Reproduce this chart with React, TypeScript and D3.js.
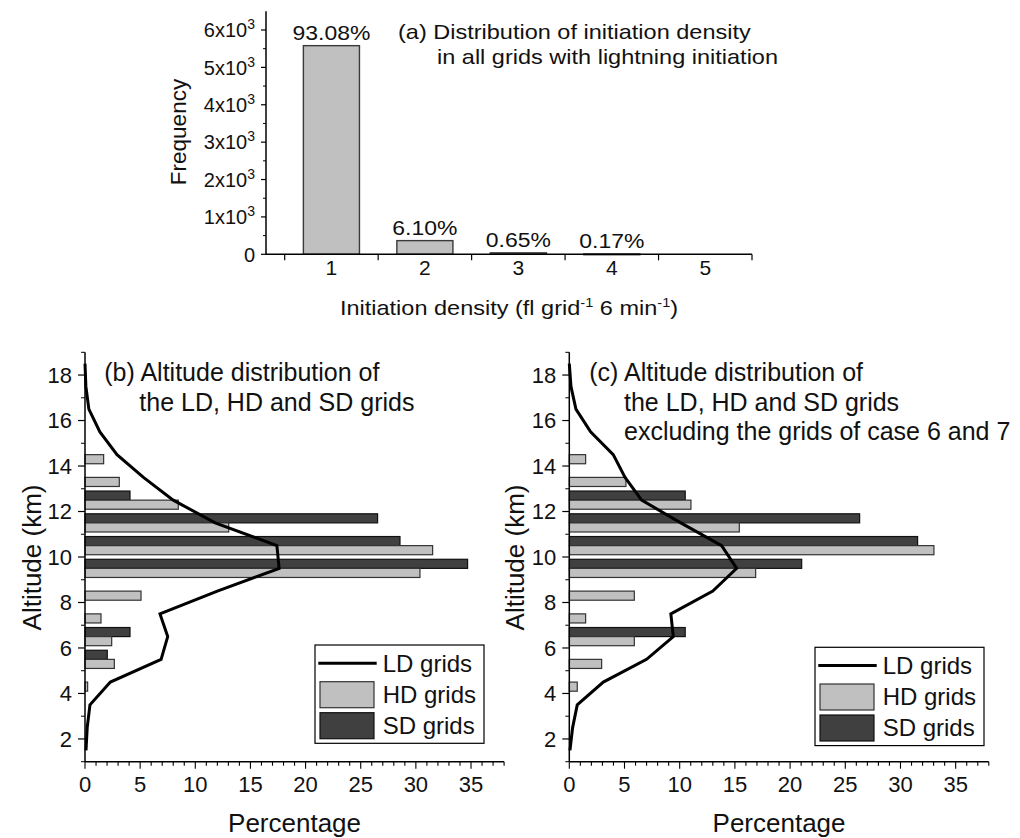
import React from "react";
import * as d3 from "d3";

const FONT = "'Liberation Sans', Arial, Helvetica, sans-serif";

// ---------- Panel (a) data ----------
const densityCategories = [1, 2, 3, 4, 5];
const densityFrequency = [5581, 366, 39, 10, 0];
const densityPercentLabels = ["93.08%", "6.10%", "0.65%", "0.17%", ""];
const freqTicks = [0, 1000, 2000, 3000, 4000, 5000, 6000];
const freqMinorTicks = [500, 1500, 2500, 3500, 4500, 5500];
const densityEdgeTicks = [0.5, 1.5, 2.5, 3.5, 4.5, 5.5];

// ---------- Panels (b),(c) data ----------
const altitudeBins = [1.5, 2.5, 3.5, 4.5, 5.5, 6.5, 7.5, 8.5, 9.5, 10.5, 11.5, 12.5, 13.5, 14.5, 15.5, 16.5, 17.5, 18.5];
const ldB = [0.09, 0.2, 0.45, 2.3, 6.9, 7.5, 6.8, 12.0, 17.6, 17.4, 11.8, 8.0, 5.3, 2.9, 1.35, 0.35, 0.08, 0];
const hdB = [0, 0, 0, 0.24, 2.66, 2.42, 1.45, 5.08, 30.37, 31.52, 13.03, 8.46, 3.11, 1.69, 0, 0, 0, 0];
const sdB = [0, 0, 0, 0, 2.02, 4.08, 0, 0, 34.69, 28.56, 26.53, 4.08, 0, 0, 0, 0, 0, 0];
const ldC = [0.06, 0.3, 0.72, 3.08, 7.0, 9.42, 9.2, 13.0, 15.16, 13.8, 10.1, 6.55, 5.05, 3.98, 1.93, 0.6, 0.15, 0];
const hdC = [0, 0, 0, 0.72, 2.93, 5.89, 1.48, 5.89, 16.88, 33.03, 15.4, 11.02, 5.13, 1.48, 0, 0, 0, 0];
const sdC = [0, 0, 0, 0, 0, 10.5, 0, 0, 21.05, 31.55, 26.3, 10.5, 0, 0, 0, 0, 0, 0];
const pctTicks = [0, 5, 10, 15, 20, 25, 30, 35];
const pctMinorTicks = d3.range(0, 39, 1);
const altTicks = [2, 4, 6, 8, 10, 12, 14, 16, 18];
const altMinorTicks = [1, 3, 5, 7, 9, 11, 13, 15, 17, 19];
const legendLabels = ["LD grids", "HD grids", "SD grids"];

const LIGHT = "#c0c0c0";
const DARK = "#404040";

function PanelA() {
  const x = d3.scaleLinear().domain([0.3, 5.5]).range([266, 752]);
  const y = d3.scaleLinear().domain([0, 6500]).range([254.3, 11.3]);
  const half = 0.3;
  return (
    <g>
      {densityCategories.map((c, i) => {
        const v = densityFrequency[i];
        if (v <= 0) return null;
        return (
          <rect key={"ab" + i} x={x(c - half)} y={y(v)} width={x(c + half) - x(c - half)}
            height={Math.max(y(0) - y(v), 0.8)} fill={LIGHT} stroke="#3a3a3a" strokeWidth={1.4} />
        );
      })}
      {densityCategories.map((c, i) => (
        <text key={"ap" + i} transform={`translate(${x(c)},${y(densityFrequency[i]) - 6}) scale(1.12,1)`}
          textAnchor="middle" fontSize={20.5} fontFamily={FONT} fill="#111">{densityPercentLabels[i]}</text>
      ))}
      {/* axes */}
      <line x1={x(0.3)} x2={x(0.3)} y1={y(6500)} y2={y(0)} stroke="#000" strokeWidth={1.5} />
      <line x1={x(0.3)} x2={x(5.5)} y1={y(0)} y2={y(0)} stroke="#000" strokeWidth={1.5} />
      {freqTicks.map((t) => (
        <g key={"yt" + t}>
          <line x1={x(0.3) - 5} x2={x(0.3)} y1={y(t)} y2={y(t)} stroke="#000" strokeWidth={1.2} />
          <text x={x(0.3) - 11} y={y(t)} dy="0.36em" textAnchor="end" fontSize={20} fontFamily={FONT} fill="#111">
            {t === 0 ? "0" : (
              <>
                {`${t / 1000}x10`}
                <tspan dy="-8" fontSize={14}>3</tspan>
              </>
            )}
          </text>
        </g>
      ))}
      {freqMinorTicks.map((t) => (
        <line key={"ym" + t} x1={x(0.3) - 3} x2={x(0.3)} y1={y(t)} y2={y(t)} stroke="#000" strokeWidth={1} />
      ))}
      {densityEdgeTicks.map((t) => (
        <line key={"xt" + t} x1={x(t)} x2={x(t)} y1={y(0)} y2={y(0) + 6} stroke="#000" strokeWidth={1.2} />
      ))}
      {densityCategories.map((c) => (
        <text key={"xl" + c} x={x(c)} y={275} textAnchor="middle" fontSize={21} fontFamily={FONT} fill="#111">{c}</text>
      ))}
      <text transform={`translate(${(x(0.3) + x(5.5)) / 2},315) scale(1.12,1)`} textAnchor="middle" fontSize={21} fontFamily={FONT} fill="#111">
        Initiation density (fl grid<tspan dy="-8" fontSize={13}>-1</tspan><tspan dy="8"> 6 min</tspan><tspan dy="-8" fontSize={13}>-1</tspan><tspan dy="8">)</tspan>
      </text>
      <text transform="translate(186,132) rotate(-90)" textAnchor="middle" fontSize={22.5} fontFamily={FONT} fill="#111">Frequency</text>
      <text transform="translate(398,39.3) scale(1.12,1)" fontSize={21} fontFamily={FONT} fill="#111">(a) Distribution of initiation density</text>
      <text transform="translate(437,64) scale(1.12,1)" fontSize={21} fontFamily={FONT} fill="#111">in all grids with lightning initiation</text>
    </g>
  );
}

type AltCfg = {
  x0: number; x1: number; ld: number[]; hd: number[]; sd: number[];
  title: { x: number; y: number; text: string }[]; legendX: number; legendY: number; ylabelX: number;
};

function AltPanel({ cfg }: { cfg: AltCfg }) {
  const x = d3.scaleLinear().domain([0, 38]).range([cfg.x0, cfg.x1]);
  const y = d3.scaleLinear().domain([1, 19]).range([761.7, 352.3]);
  const bh = 0.4;
  const pts = altitudeBins.map((a, i) => [cfg.ld[i], a] as [number, number]).reverse();
  const line = d3.line<[number, number]>().x((d) => x(d[0])).y((d) => y(d[1]));
  const lx = cfg.legendX, ly = cfg.legendY;
  return (
    <g>
      {altitudeBins.map((a, i) => (
        <g key={"b" + i}>
          {cfg.sd[i] > 0 && (
            <rect x={x(0)} y={y(a + bh)} width={x(cfg.sd[i]) - x(0)} height={y(a) - y(a + bh)}
              fill={DARK} stroke="#111" strokeWidth={1.2} />
          )}
          {cfg.hd[i] > 0 && (
            <rect x={x(0)} y={y(a)} width={x(cfg.hd[i]) - x(0)} height={y(a - bh) - y(a)}
              fill={LIGHT} stroke="#333" strokeWidth={1.2} />
          )}
        </g>
      ))}
      {/* axes */}
      <line x1={x(0)} x2={x(0)} y1={y(19)} y2={y(1)} stroke="#000" strokeWidth={1.5} />
      <line x1={x(0)} x2={x(38)} y1={y(1)} y2={y(1)} stroke="#000" strokeWidth={1.5} />
      <path d={line(pts) || ""} fill="none" stroke="#000" strokeWidth={3} strokeLinejoin="miter" />
      {altTicks.map((t) => (
        <g key={"yt" + t}>
          <line x1={x(0) - 7} x2={x(0)} y1={y(t)} y2={y(t)} stroke="#000" strokeWidth={1.2} />
          <text x={x(0) - 13} y={y(t)} dy="0.36em" textAnchor="end" fontSize={22} fontFamily={FONT} fill="#111">{t}</text>
        </g>
      ))}
      {altMinorTicks.map((t) => (
        <line key={"ym" + t} x1={x(0) - 4} x2={x(0)} y1={y(t)} y2={y(t)} stroke="#000" strokeWidth={1} />
      ))}
      {pctMinorTicks.map((t) => (
        <line key={"xm" + t} x1={x(t)} x2={x(t)} y1={y(1)} y2={y(1) + (t % 5 === 0 ? 7 : 4)} stroke="#000" strokeWidth={1.1} />
      ))}
      {pctTicks.map((t) => (
        <text key={"xl" + t} x={x(t)} y={792} textAnchor="middle" fontSize={22} fontFamily={FONT} fill="#111">{t}</text>
      ))}
      <text x={(x(0) + x(38)) / 2} y={831.7} textAnchor="middle" fontSize={26} fontFamily={FONT} fill="#111">Percentage</text>
      <text transform={`translate(${cfg.ylabelX},557.5) rotate(-90)`} textAnchor="middle" fontSize={26} fontFamily={FONT} fill="#111">Altitude (km)</text>
      {cfg.title.map((t, i) => (
        <text key={"t" + i} x={t.x} y={t.y} fontSize={25} fontFamily={FONT} fill="#111">{t.text}</text>
      ))}
      {/* legend */}
      <rect x={lx} y={ly} width={169} height={98.3} fill="#fff" stroke="#000" strokeWidth={1.2} />
      <line x1={lx + 3.3} x2={lx + 61.7} y1={ly + 18.3} y2={ly + 18.3} stroke="#000" strokeWidth={3} />
      <rect x={lx + 5} y={ly + 36.7} width={54} height={26} fill={LIGHT} stroke="#333" strokeWidth={1.2} />
      <rect x={lx + 5} y={ly + 67.7} width={54} height={26} fill={DARK} stroke="#111" strokeWidth={1.2} />
      {legendLabels.map((l, i) => (
        <text key={"l" + i} x={lx + 67.7} y={ly + 27 + i * 31} fontSize={24} fontFamily={FONT} fill="#111">{l}</text>
      ))}
    </g>
  );
}

export default function App() {
  const cfgB: AltCfg = {
    x0: 85, x1: 504.1, ld: ldB, hd: hdB, sd: sdB,
    title: [
      { x: 104.3, y: 381, text: "(b) Altitude distribution of" },
      { x: 139.3, y: 410.7, text: "the LD, HD and SD grids" },
    ],
    legendX: 315, legendY: 645, ylabelX: 41,
  };
  const cfgC: AltCfg = {
    x0: 569.3, x1: 988.8, ld: ldC, hd: hdC, sd: sdC,
    title: [
      { x: 589.3, y: 381, text: "(c) Altitude distribution of" },
      { x: 624, y: 410.7, text: "the LD, HD and SD grids" },
      { x: 624, y: 440, text: "excluding the grids of case 6 and 7" },
    ],
    legendX: 815, legendY: 647.3, ylabelX: 523.5,
  };
  return (
    <svg width={1020} height={838} style={{ position: "absolute", left: 0, top: 0, background: "#fff" }}>
      <rect x={0} y={0} width={1020} height={838} fill="#fff" />
      <PanelA />
      <AltPanel cfg={cfgB} />
      <AltPanel cfg={cfgC} />
    </svg>
  );
}
